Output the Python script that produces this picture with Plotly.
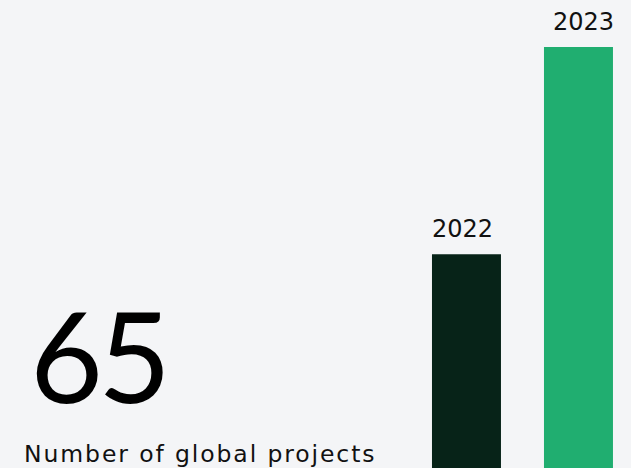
import plotly.graph_objects as go

years = ["2022", "2023"]
values = [33, 65]
colors = ["#072318", "#20ae70"]
headline = "65"
caption = "Number of global projects"

xpos = [0, 1]
bw = 0.616
fig = go.Figure()
fig.add_trace(go.Bar(x=xpos, y=values, width=bw, marker=dict(color=colors, line=dict(width=0)),
                     hoverinfo="skip"))

font_family = "DejaVu Sans"
annotations = [
    dict(x=xpos[0] - bw / 2, y=values[0], xref="x", yref="y", text=years[0], showarrow=False,
         xanchor="left", yanchor="bottom", yshift=9, xshift=-2,
         font=dict(size=24, color="#111", family=font_family)),
    dict(x=xpos[1] + bw / 2, y=values[1], xref="x", yref="y", text=years[1], showarrow=False,
         xanchor="right", yanchor="bottom", yshift=9, xshift=3,
         font=dict(size=24, color="#111", family=font_family)),
    dict(x=28 / 631, y=1 - 432 / 468, xref="paper", yref="paper",
         text='<span style="letter-spacing:-5px">' + headline + '</span>', showarrow=False,
         xanchor="left", yanchor="bottom",
         font=dict(size=126, color="#000", family="Lato", weight=400)),
    dict(x=22 / 631, y=1 - 470 / 468, xref="paper", yref="paper",
         text='<span style="letter-spacing:1.9px">' + caption + '</span>', showarrow=False,
         xanchor="left", yanchor="bottom",
         font=dict(size=23.5, color="#111", family=font_family)),
]

fig.update_layout(
    width=631, height=468,
    margin=dict(l=0, r=0, t=0, b=0),
    paper_bgcolor="#f4f5f7", plot_bgcolor="#f4f5f7",
    showlegend=False,
    xaxis=dict(range=[-4.165, 1.469], visible=False, fixedrange=True),
    yaxis=dict(range=[0, 72.25], visible=False, fixedrange=True),
    annotations=annotations,
)
fig.write_html("out.html", config={"displayModeBar": False})
